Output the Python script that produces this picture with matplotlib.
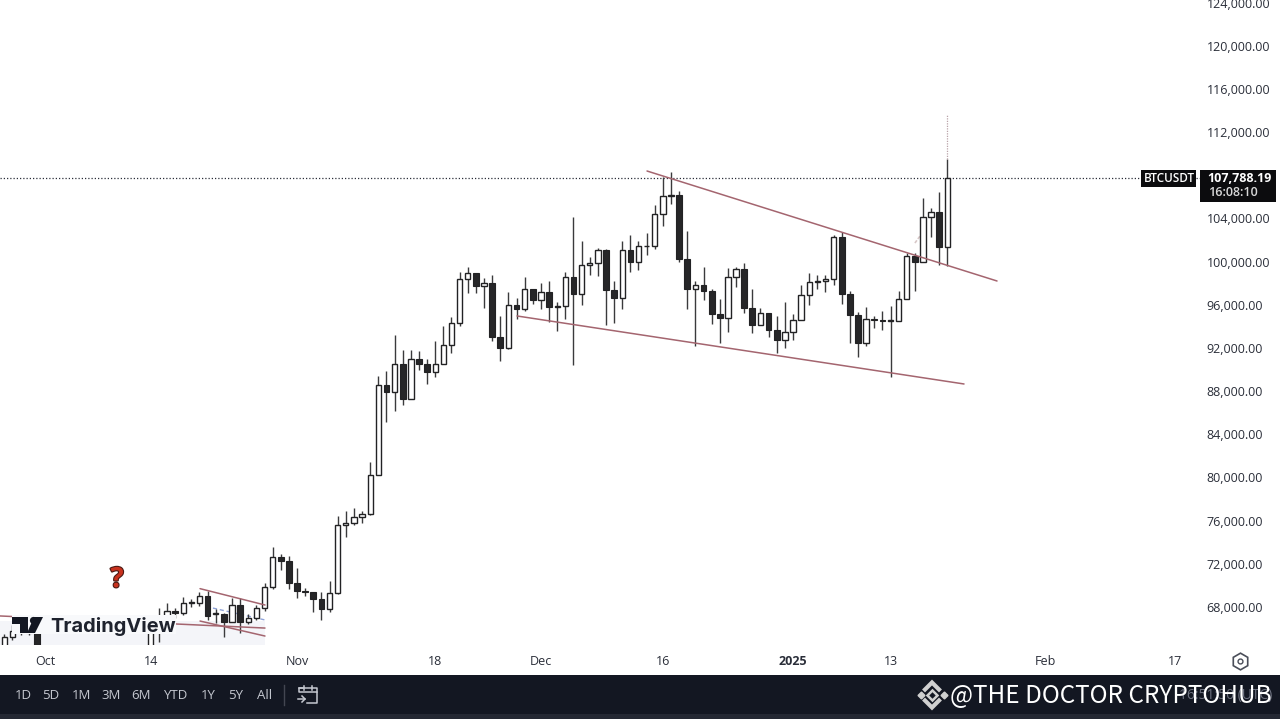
import pandas as pd
import matplotlib
matplotlib.use('Agg')
import matplotlib.pyplot as plt
import matplotlib.patheffects as pe
from matplotlib.patches import Rectangle, Polygon, Circle

plt.rcParams['font.family'] = ['Open Sans', 'DejaVu Sans']

#daily BTCUSDT candles, first one is 2024-09-26
first_day = '2024-09-26'
opens = [63150, 65180, 65770, 65880, 65600,
         63300, 60800, 60650, 60750, 62050, 62100, 62800, 62250, 62150, 60600, 60300, 62500, 63200, 62850, 66050,
         67050, 67600, 67400, 68400, 68400, 69000, 67350, 67350, 66600, 68150, 66600, 67000, 67900, 69850, 72630, 72300,
         70250, 69450, 69350, 68700, 67800, 69300, 75550, 75750, 76350, 76600, 80250, 88560, 87955, 90500, 87300, 91000,
         90500, 89800, 90500, 92300, 94300, 98350, 98900, 97700, 98000, 93000, 91950, 95950, 95650, 97450,
         96400, 97200, 95800, 95850, 98600, 96950, 99700, 99850, 101100, 97400, 96600, 101100, 100000, 101400, 101400, 104450,
         106050, 106150, 100200, 97450, 97800, 97250, 95150, 94750, 98600, 99300, 95700, 94150, 95250, 93700, 92750,
         93500, 94550, 96900, 98100, 98200, 98350, 102250, 96950, 95050, 92500, 94700, 94550, 94500, 94500, 96500, 100500,
         100000, 104100, 104600, 101330]
highs = [65500, 66330, 66200, 66100, 65700,
         64100, 62400, 61500, 62500, 62400, 62950, 64450, 63200, 62500, 61300, 63400, 63500, 63300, 66500, 67900,
         68400, 67900, 68900, 68700, 69400, 69450, 67800, 67400, 68800, 68800, 67350, 68200, 70250, 73560, 72950, 72700,
         71600, 69800, 69400, 69400, 70400, 76400, 76900, 77170, 76850, 81400, 89430, 89900, 93200, 91800, 91800, 91700,
         91000, 92600, 94000, 94900, 99000, 99500, 98900, 98500, 98800, 94950, 97200, 96650, 98600, 97450,
         98000, 98200, 96300, 99000, 104100, 101900, 100400, 101300, 101200, 98200, 101900, 102500, 101900, 102650, 105200, 107800,
         108300, 106500, 102800, 98200, 99500, 97450, 96500, 99400, 99500, 99900, 97500, 95700, 95250, 95000, 96250,
         95100, 97800, 98900, 98750, 98800, 102500, 102750, 97250, 95350, 95800, 95000, 95400, 95900, 97300, 100800, 100800,
         105900, 105000, 106400, 109500]
lows = [63000, 64900, 65400, 65400, 62800,
        60100, 60000, 59800, 60450, 61700, 61800, 62100, 61800, 60300, 58900, 60000, 62400, 62000, 62450, 64800,
        66800, 67000, 67300, 68000, 68100, 66800, 66550, 65200, 66600, 65600, 66400, 66800, 67600, 69700, 71400, 69700,
        68800, 69000, 67500, 66800, 67500, 69200, 74500, 75550, 75800, 76500, 80200, 85100, 86200, 86700, 87300, 90000,
        88700, 89300, 90500, 91500, 94000, 97100, 97100, 95700, 92600, 90800, 91900, 94700, 95400, 96100,
        95650, 94400, 93600, 94650, 90400, 96000, 98800, 98700, 94100, 94300, 95600, 99000, 99200, 100600, 101200, 103300,
        105300, 100000, 95600, 92200, 96400, 94200, 92500, 93500, 97600, 95200, 93400, 94150, 93000, 91500, 92000,
        92700, 94550, 96000, 97450, 97200, 97800, 96100, 92500, 91200, 92200, 93800, 93700, 89300, 94500, 96500, 97300,
        100000, 102250, 99700, 99600]
closes = [65180, 65770, 65880, 65600, 63300,
          60800, 60650, 60750, 62050, 62100, 62800, 62250, 62150, 60600, 60300, 62500, 63200, 62850, 66050, 67050,
          67600, 67400, 68400, 68420, 69000, 67200, 67400, 66600, 68150, 66600, 67000, 67900, 69850, 72630, 72300, 70250,
          69450, 69350, 68700, 67800, 69300, 75550, 75750, 76350, 76600, 80250, 88560, 87955, 90500, 87300, 91000, 90500,
          89800, 90500, 92300, 94300, 98350, 98900, 97700, 98000, 93000, 91950, 95950, 95650, 97450, 96400,
          97200, 95800, 95850, 98600, 96950, 99700, 99850, 101100, 97400, 96600, 101100, 100000, 101400, 101400, 104450, 106050,
          106150, 100200, 97450, 97800, 97250, 95150, 94750, 98600, 99300, 95700, 94150, 95250, 93700, 92750, 93500,
          94550, 96900, 98100, 98200, 98350, 102250, 96950, 95050, 92500, 94700, 94550, 94500, 94500, 96500, 100500, 100000,
          104100, 104600, 101330, 107788.19]

last_price = 107788.19
pointer_top = 113700

#trend lines drawn on the chart: (days after 1 Oct, price)
upper_line = ([74.05, 117.1], [108390, 98200])
lower_line = ([58.06, 113.04], [94960, 88660])
small_top = ([19.07, 27.06], [69700, 68185])
small_bottom = ([19.07, 27.06], [66700, 65310])
small_flat = ([-5.53, 27.06], [67170, 66050])
small_mid = ([20.66, 27.06], [67900, 66800])
faint_arrow = ([107.0, 107.9], [101720, 102640])

price_ticks = [68000, 72000, 76000, 80000, 84000, 88000, 92000, 96000, 100000, 104000, 112000, 116000, 120000, 124000]
time_ticks = ['2024-10-01', '2024-10-14', '2024-11-01', '2024-11-18', '2024-12-01', '2024-12-16',
              '2025-01-01', '2025-01-13', '2025-02-01', '2025-02-17']
time_labels = ['Oct', '14', 'Nov', '18', 'Dec', '16', '2025', '13', 'Feb', '17']
range_buttons = ['1D', '5D', '1M', '3M', '6M', 'YTD', '1Y', '5Y', 'All']
range_x = [23, 51, 81, 111, 141, 175, 208, 236, 265]

dates = pd.date_range(first_day, periods=len(opens))
df = pd.DataFrame({'open': opens, 'high': highs, 'low': lows, 'close': closes}, index=dates)
oct1 = pd.Timestamp('2024-10-01')


def day(d):
    return oct1 + pd.to_timedelta(d, unit='D')


W, H = 1280, 719
fig = plt.figure(figsize=(12.8, 7.19), dpi=100, facecolor='white')
ax = fig.add_axes([0, (H - 645) / H, 1201 / W, 645 / H], zorder=2)
ax.patch.set_alpha(0)

#overlay in pixel coordinates for the interface bits
ov = fig.add_axes([0, 0, 1, 1], zorder=3)
ov.set_xlim(0, W)
ov.set_ylim(H, 0)
ov.axis('off')
under = fig.add_axes([0, 0, 1, 1], zorder=1)
under.set_xlim(0, W)
under.set_ylim(H, 0)
under.axis('off')
under.add_patch(Rectangle((0, 621), 265, 24, color='#f4f5f9', lw=0))

#candles
ink = '#222224'
up = df[df.close >= df.open]
down = df[df.close < df.open]
ax.vlines(df.index, df.low, df.high, color='#3a3a3c', lw=1.0, zorder=2)
ax.bar(up.index, (up.close - up.open).clip(lower=60), bottom=up.open, width=0.66,
       color='white', edgecolor=ink, linewidth=1.0, zorder=3)
ax.bar(down.index, (down.open - down.close).clip(lower=60), bottom=down.close, width=0.7,
       color='#262628', edgecolor=ink, linewidth=0.8, zorder=3)

#trend lines
for line in [upper_line, lower_line, small_top, small_bottom, small_flat]:
    ax.plot(day(line[0]), line[1], color='#a4656f', lw=1.1, zorder=4, solid_capstyle='round')
ax.plot(day(small_mid[0]), small_mid[1], color='#8fa3d8', lw=1.0, ls=(0, (3, 2)), zorder=1)
ax.plot(day(faint_arrow[0]), faint_arrow[1], color='#d8c8c8', lw=1.2, ls=(0, (2, 1)), zorder=2)

#last price line and dotted pointer up from the last candle
ax.axhline(last_price, color='#2a2e39', lw=0.9, ls=(0, (1, 1.6)), zorder=1)
ax.vlines(df.index[-1], highs[-1], pointer_top, color='#b9a3a8', lw=0.9, ls=(0, (1, 1)), zorder=2)

ax.set_xlim(day(-45 / 8.13), day(1156 / 8.13))
ax.set_ylim(68000 - 38 * 92.64, 124000 + 2.5 * 92.64)
for s in ax.spines.values():
    s.set_visible(False)
ax.yaxis.tick_right()
ax.set_yticks(price_ticks)
ax.set_yticklabels(['{:,.2f}'.format(p) for p in price_ticks])
ax.tick_params(axis='y', length=0, pad=4, labelsize=9, labelcolor='#2a2e39')
ax.set_xticks(pd.to_datetime(time_ticks))
ax.set_xticklabels(time_labels)
ax.tick_params(axis='x', length=0, pad=7, labelsize=9, labelcolor='#2a2e39')
for lab in ax.get_xticklabels():
    if lab.get_text() == '2025':
        lab.set_fontweight('bold')

#symbol and price tags
ov.add_patch(Rectangle((1141, 170), 55, 17, color='#0c0c0e', lw=0))
ov.add_patch(Rectangle((1200, 170), 76, 32, color='#0c0c0e', lw=0))
ov.text(1169, 178.5, 'BTCUSDT', color='white', fontsize=8.5, fontweight='semibold', ha='center', va='center')
ov.text(1239.5, 178, '107,788.19', color='white', fontsize=9, fontweight='bold', ha='center', va='center')
ov.text(1233, 192, '16:08:10', color='#d8d8d8', fontsize=9, fontweight='semibold', ha='center', va='center')

#watermark over the lower left corner, it hides the candles behind it
ov.add_patch(Rectangle((12, 615), 164, 19, color='#f8f9fb', lw=0))
ov.add_patch(Polygon([(12, 617), (28, 617), (28, 633), (20, 633), (20, 624), (12, 624)], color='#131722', lw=0))
ov.add_patch(Circle((33.5, 620.5), 3.6, color='#131722', lw=0))
ov.add_patch(Polygon([(35, 633), (43, 617), (34, 617), (27, 633)], color='#131722', lw=0))
ov.text(50, 626.5, 'TradingView', color='#1e222d', fontsize=14.4, fontweight='bold',
        family=['Inter', 'DejaVu Sans'], ha='left', va='center')
ov.text(117, 579.5, '?', color='#c8321e', fontsize=20, fontweight='bold', ha='center', va='center',
        path_effects=[pe.withStroke(linewidth=1.6, foreground='#4a1a14')])

#settings icon on the time axis
ov.plot([1240], [660.5], marker='h', ms=12, mfc='white', mec='#4a4e59', mew=1.2)
ov.plot([1240], [660.5], marker='o', ms=3.5, mfc='white', mec='#4a4e59', mew=1.0)

#bottom bar
ov.add_patch(Rectangle((0, 675), W, 44, color='#131722', lw=0))
ov.add_patch(Rectangle((0, 714), W, 5, color='#242833', lw=0))
for label, x in zip(range_buttons, range_x):
    ov.text(x, 695.5, label, color='#c5c8d0', fontsize=9.5, ha='center', va='center')
ov.plot([284, 284], [685, 705], color='#434651', lw=1)
#calendar icon
ov.plot([303, 299, 299, 317, 317, 307], [688, 688, 692, 692, 703, 703], color='#c5c8d0', lw=1.1)
ov.plot([317, 317, 299], [692, 688, 688], color='#c5c8d0', lw=1.1)
ov.plot([304, 304], [686, 690], color='#c5c8d0', lw=1.1)
ov.plot([312, 312], [686, 690], color='#c5c8d0', lw=1.1)
ov.plot([298, 305], [699, 699], color='#c5c8d0', lw=1.1)
ov.plot([302, 305, 302], [696, 699, 702], color='#c5c8d0', lw=1.1)

#clock text under the pasted channel name
ov.text(1272, 695, '16:51:50 (UTC)', color='#6e7280', fontsize=10, ha='right', va='center')
ov.text(950, 696.5, '@THE DOCTOR CRYPTOHUB', color='white', fontsize=17.5,
        family=['Noto Sans CJK SC', 'DejaVu Sans'], ha='left', va='center')
#channel badge
badge = '#d0d0d0'
ov.plot([925, 932, 939], [689.5, 682.5, 689.5], color=badge, lw=3, solid_joinstyle='miter')
ov.plot([925, 932, 939], [700.5, 707.5, 700.5], color=badge, lw=3, solid_joinstyle='miter')
ov.plot([920.5], [695], marker='D', ms=3.5, color=badge)
ov.plot([943.5], [695], marker='D', ms=3.5, color=badge)
ov.plot([932], [695], marker='D', ms=5, mfc='none', mec=badge, mew=1.8)

fig.savefig('out.png', dpi=100, facecolor='white')
